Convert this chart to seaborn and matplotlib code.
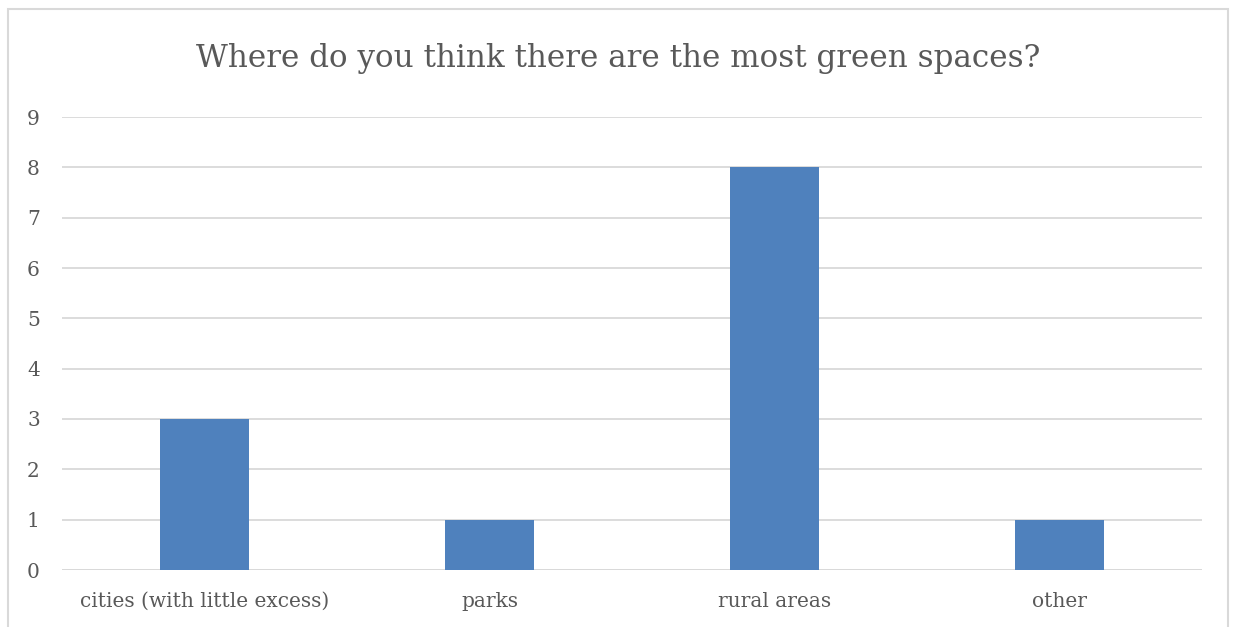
import matplotlib
matplotlib.use("Agg")
import matplotlib.pyplot as plt
import seaborn as sns
import pandas as pd
from matplotlib.patches import Rectangle

categories = ["cities (with little excess)", "parks", "rural areas", "other"]
values = [3, 1, 8, 1]
yticks = [0, 1, 2, 3, 4, 5, 6, 7, 8, 9]
title = "Where do you think there are the most green spaces?"

sns.set_theme(style="white")
plt.rcParams['font.family'] = ['DejaVu Serif']

W, H = 1237, 627
fig = plt.figure(figsize=(W/100, H/100), dpi=100)
ax = fig.add_axes([62/W, 1-570/H, (1202-62)/W, (570-117)/H])

df = pd.DataFrame({"cat": categories, "val": values})
sns.barplot(data=df, x="cat", y="val", color="#4f81bd", saturation=1, width=0.315,
            linewidth=0, ax=ax, zorder=3)

ax.set_xlim(-0.5, 3.5)
ax.set_ylim(0, 9)
ax.set_yticks(yticks)
ax.yaxis.grid(True, color="#d9d9d9", linewidth=1.3, zorder=0)
ax.set_axisbelow(True)
for s in ax.spines.values():
    s.set_visible(False)
ax.set_xlabel("")
ax.set_ylabel("")
ax.tick_params(axis="y", length=0, pad=16, labelsize=14.5, labelcolor="#595959")
ax.tick_params(axis="x", length=0, pad=16, labelsize=14.5, labelcolor="#595959")
ax.axhline(0, color="#d9d9d9", linewidth=1.3, zorder=1)

fig.text(0.5, 1-58/H, title, ha="center", va="center", fontsize=22.3, color="#595959")

border = Rectangle((8/W, -0.05), (1228-8)/W, (1-9/H)+0.05, transform=fig.transFigure,
                   fill=False, edgecolor="#d9d9d9", linewidth=1.5, clip_on=False)
fig.patches.append(border)

fig.savefig("out.png", dpi=100)
